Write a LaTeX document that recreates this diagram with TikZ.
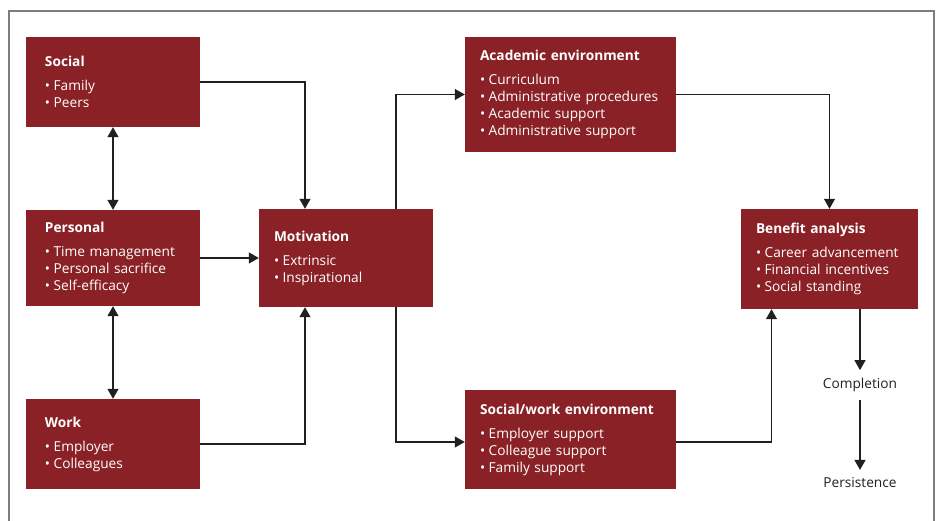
\documentclass[tikz,border=0pt]{standalone}
\usepackage{fontspec}
\setmainfont{Open Sans}
\usetikzlibrary{arrows.meta,calc}
\definecolor{boxred}{RGB}{137,33,38}
\definecolor{linec}{RGB}{35,31,32}
\definecolor{framec}{RGB}{125,125,125}
\tikzset{
  box/.style={draw=none, fill=boxred, text=white, align=left, anchor=center,
    inner xsep=15pt, inner ysep=0pt, font={\fontsize{13.7}{17}\selectfont}},
  leftbox/.style={box, inner xsep=19pt, minimum width=174pt, text width=136pt},
  conn/.style={draw=linec, line width=1.2pt},
  arr/.style={conn, -{Triangle[length=10pt,width=11pt]}},
  darr/.style={conn, {Triangle[length=10pt,width=11pt]}-{Triangle[length=10pt,width=11pt]}},
  plain/.style={font={\fontsize{13.7}{17}\selectfont}, text=linec, inner sep=0pt}
}
\newcommand{\bt}{\textbullet\hspace{3.5pt}}
\begin{document}
\begin{tikzpicture}[x=1pt,y=-1pt]
\useasboundingbox (0,0) rectangle (938,521);
\draw[framec, line width=1.6pt] (9,525) -- (9,11) -- (934,11) -- (934,525);

\node[leftbox, minimum height=90pt] (social) at (113,82)
  {\textbf{Social}\\[7pt]\bt Family\\\bt Peers};
\node[leftbox, minimum height=96pt] (personal) at (113,258)
  {\textbf{Personal}\\[7pt]\bt Time management\\\bt Personal sacrifice\\\bt Self-efficacy};
\node[leftbox, minimum height=90pt] (work) at (113,444)
  {\textbf{Work}\\[7pt]\bt Employer\\\bt Colleagues};
\node[box, minimum width=174pt, minimum height=98pt, text width=144pt] (motiv) at (346,258)
  {\textbf{Motivation}\\[7pt]\bt Extrinsic\\\bt Inspirational};
\node[box, minimum width=211pt, minimum height=115pt, text width=181pt] (acad) at (570.5,94.5)
  {\textbf{Academic environment}\\[7pt]\bt Curriculum\\\bt Administrative procedures\\\bt Academic support\\\bt Administrative support};
\node[box, minimum width=211pt, minimum height=99pt, text width=181pt] (swork) at (570.5,439.5)
  {\textbf{Social/work environment}\\[7pt]\bt Employer support\\\bt Colleague support\\\bt Family support};
\node[box, minimum width=177pt, minimum height=100pt, text width=147pt] (benefit) at (829.5,259)
  {\textbf{Benefit analysis}\\[7pt]\bt Career advancement\\\bt Financial incentives\\\bt Social standing};
\node[plain, outer ysep=8pt] (completion) at (860,385) {Completion};
\node[plain, outer ysep=8pt] (persist) at (860,483) {Persistence};

\draw[arr] (social.east) -| ([xshift=-41pt]motiv.north);
\draw[darr] (social.south) -- (personal.north);
\draw[darr] (personal.south) -- (work.north);
\draw[arr] (personal.east) -- (motiv.west);
\draw[arr] (work.east) -| ([xshift=-41pt]motiv.south);
\draw[arr] ([xshift=50pt]motiv.north) |- (acad.west);
\draw[arr] ([xshift=50pt]motiv.south) |- ([yshift=-2.5pt]swork.west);
\draw[arr] (acad.east) -| (benefit.north);
\draw[arr] ([yshift=-2.5pt]swork.east) -| ([xshift=-58pt]benefit.south);
\draw[arr] ([xshift=30.5pt]benefit.south) -- (completion.north);
\draw[arr] (completion.south) -- (persist.north);
\end{tikzpicture}
\end{document}
